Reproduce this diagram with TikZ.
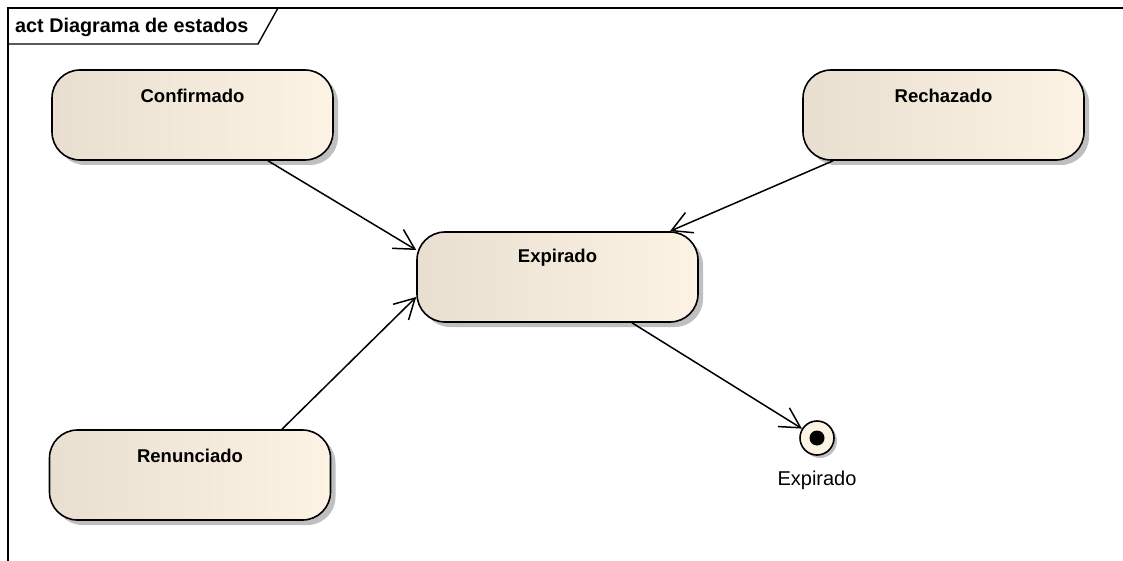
\documentclass[tikz,border=0pt]{standalone}
\usepackage{fontspec}
\setmainfont{Liberation Sans}
\usetikzlibrary{arrows.meta,shadows,calc}
\definecolor{stateL}{RGB}{232,223,209}
\definecolor{stateR}{RGB}{252,243,228}
\definecolor{shadowgray}{RGB}{175,175,175}
\tikzset{
  statebox/.style={draw=black, line width=1.6pt, rounded corners=28pt,
    minimum width=281pt, minimum height=90pt, left color=stateL, right color=stateR,
    drop shadow={shadow xshift=5pt, shadow yshift=-5pt, fill=shadowgray, opacity=0.8}},
  statename/.style={anchor=center, yshift=-27pt, font=\fontsize{18.5}{21}\selectfont\bfseries},
  trans/.style={line width=1.5pt, -{Straight Barb[length=20pt,width=22pt,line width=1.5pt]}},
  finalstate/.style={circle, draw=black, line width=1.6pt, minimum size=34pt, inner sep=0pt,
    fill=stateR, drop shadow={shadow xshift=3pt, shadow yshift=-3pt, fill=shadowgray, opacity=0.8}}
}
\begin{document}
\begin{tikzpicture}[x=1pt,y=-1pt]
\useasboundingbox (0,0) rectangle (1123,561);
% diagram frame and its name tab
\draw[line width=1.6pt] (8,561) -- (8,8) -- (1125,8);
\draw[line width=1.4pt] (8,44) -- (258,44) -- (278,8);
\node[anchor=west, font=\fontsize{19.8}{22}\selectfont\bfseries, inner sep=0pt] (title) at (15,27) {act Diagrama de estados};
% states
\node[statebox, label={[statename]north:Confirmado}] (conf) at (192.5,115) {};
\node[statebox, label={[statename]north:Rechazado}] (rech) at (943.5,115) {};
\node[statebox, label={[statename]north:Expirado}] (exp) at (557.5,277) {};
\node[statebox, label={[statename]north:Renunciado}] (ren) at (190,475) {};
% final state
\node[finalstate] (fin) at (817,438) {};
\fill[black] (fin.center) circle (7.5pt);
\node[font=\fontsize{20}{22}\selectfont, anchor=center] (finlabel) at (817,480) {Expirado};
% transitions
\draw[trans] ([xshift=75.5pt]conf.south) -- ([yshift=27pt]exp.west);
\draw[trans] ([xshift=-110.5pt]rech.south) -- ([xshift=112.5pt]exp.north);
\draw[trans] ([xshift=92pt]ren.north) -- ([yshift=-20pt]exp.west);
\draw[trans] ([xshift=74.5pt]exp.south) -- (fin);
\end{tikzpicture}
\end{document}
